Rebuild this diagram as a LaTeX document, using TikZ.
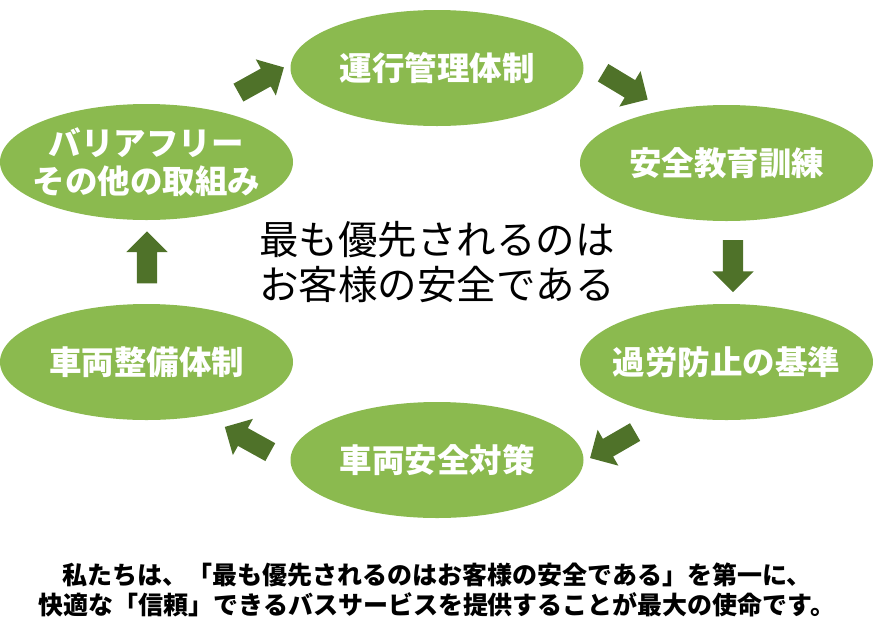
\documentclass[tikz,border=0pt]{standalone}
\usepackage{fontspec}
\newfontfamily\cjk{Noto Sans CJK JP}
\usetikzlibrary{shapes.geometric,shapes.arrows}
\definecolor{leaf}{HTML}{8BBA4F}
\definecolor{moss}{HTML}{4F7229}
\begin{document}
\begin{tikzpicture}[x=1pt,y=-1pt,
      step box/.style ={ellipse,fill=leaf,minimum width=293pt,minimum height=116pt,
        inner xsep=-30pt,inner ysep=0pt,text=white,align=center,font=\cjk\bfseries\fontsize{32.5}{38}\selectfont},
      turn arrow/.style ={single arrow,fill=moss,minimum width=41pt,minimum height=52pt,
        single arrow head extend=10.5pt,inner xsep=0pt,inner ysep=10pt,rotate=#1}]
    \useasboundingbox (0,0) rectangle (873,619);
    \node[step box] (unko)  at (437,68)    {運行管理体制};
    \node[step box] (kyoiku) at (726.5,163) {安全教育訓練};
    \node[step box] (karo)  at (726.5,362) {過労防止の基準};
    \node[step box] (taisaku) at (437,460)  {車両安全対策};
    \node[step box] (seibi) at (146.5,362) {車両整備体制};
    \node[step box] (barrier) at (146.5,162) {バリアフリー\\その他の取組み};
    \node[turn arrow=29]  (a1) at (256.7,82.5) {};
    \node[turn arrow=-31] (a2) at (621,83.5)   {};
    \node[turn arrow=-90] (a3) at (733,261)    {};
    \node[turn arrow=210] (a4) at (617,442.5)  {};
    \node[turn arrow=151] (a5) at (252,442)    {};
    \node[turn arrow=90]  (a6) at (147,262.5)  {};
    \node[align=center,font=\cjk\fontsize{39.5}{45}\selectfont] (motto) at (437,262)
      {最も優先されるのは\\お客様の安全である};
    \node[align=center,font=\cjk\bfseries\fontsize{25}{30}\selectfont] (mission) at (437,590)
      {私たちは、「最も優先されるのはお客様の安全である」を第一に、\\
       快適な「信頼」できるバスサービスを提供することが最大の使命です。};
    \end{tikzpicture}
\end{document}
